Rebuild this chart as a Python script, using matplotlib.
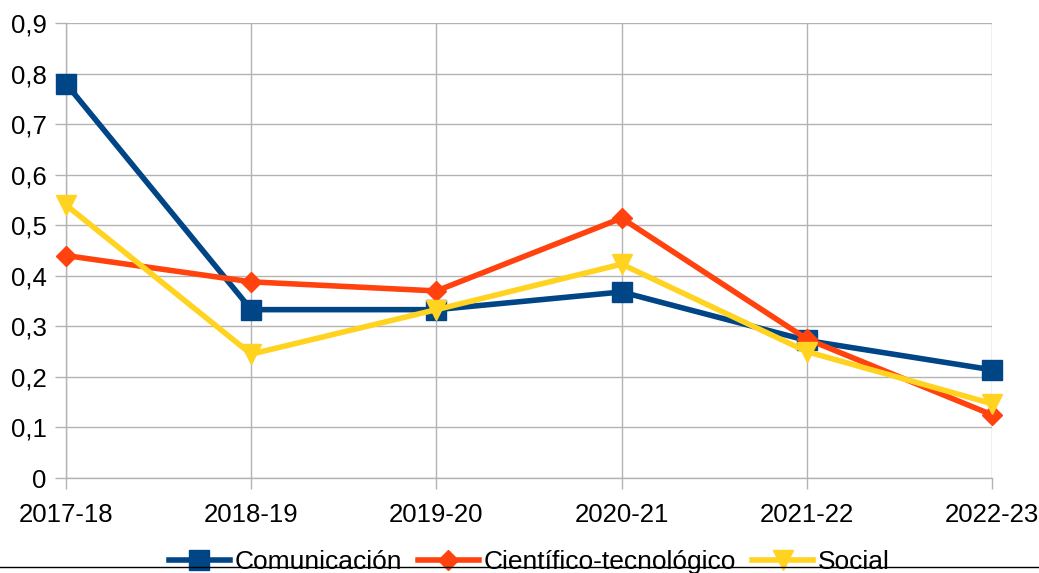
import matplotlib
matplotlib.use("Agg")
import matplotlib.pyplot as plt
from matplotlib.ticker import FuncFormatter, MultipleLocator
from matplotlib.lines import Line2D

categories = ["2017-18", "2018-19", "2019-20", "2020-21", "2021-22", "2022-23"]
comunicacion = [0.78, 0.333, 0.333, 0.368, 0.272, 0.214]
cientifico = [0.44, 0.388, 0.37, 0.514, 0.275, 0.125]
social = [0.54, 0.245, 0.333, 0.423, 0.25, 0.147]
series_names = ["Comunicación", "Científico-tecnológico", "Social"]

plt.rcParams['font.family'] = ['Liberation Sans', 'DejaVu Sans']

fig = plt.figure(figsize=(10.39, 5.73), dpi=100)
ax = fig.add_axes([66/1039, 1-478/573, (992-66)/1039, (478-23)/573])

x = list(range(len(categories)))
ax.plot(x, comunicacion, color='#004586', lw=4, marker='s', ms=14, label=series_names[0], clip_on=False, zorder=3)
ax.plot(x, cientifico, color='#ff420e', lw=4, marker='D', ms=10, label=series_names[1], clip_on=False, zorder=4)
ax.plot(x, social, color='#ffd320', lw=4, marker='v', ms=15, label=series_names[2], clip_on=False, zorder=5)

ax.set_xlim(0, len(categories)-1)
ax.set_ylim(0, 0.9)
ax.yaxis.set_major_locator(MultipleLocator(0.1))
ax.yaxis.set_major_formatter(FuncFormatter(lambda v, p: ("%.1f" % v).replace('.', ',') if abs(v) > 1e-9 else "0"))
ax.set_xticks(x)
ax.set_xticklabels(categories)
ax.grid(True, color='#b3b3b3', lw=1)
ax.set_axisbelow(True)
for s in ['top', 'right']:
    ax.spines[s].set_visible(False)
for s in ['left', 'bottom']:
    ax.spines[s].set_color('#b3b3b3')
    ax.spines[s].set_linewidth(1)
ax.tick_params(axis='both', colors='#b3b3b3', labelcolor='black', labelsize=18.5, length=8, width=1)
ax.tick_params(axis='y', pad=6)
ax.tick_params(axis='x', pad=10)

fig.legend(loc='center', bbox_to_anchor=(0.5 + 10/1039, 1-562/573), ncol=3, frameon=False,
           fontsize=19, handlelength=2.3, handletextpad=0.2, columnspacing=0.6,
           borderaxespad=0, borderpad=0)

fig.add_artist(Line2D([0, 1], [1-567/573, 1-567/573], transform=fig.transFigure, color='black', lw=1, zorder=10))

fig.savefig("out.png", dpi=100)
